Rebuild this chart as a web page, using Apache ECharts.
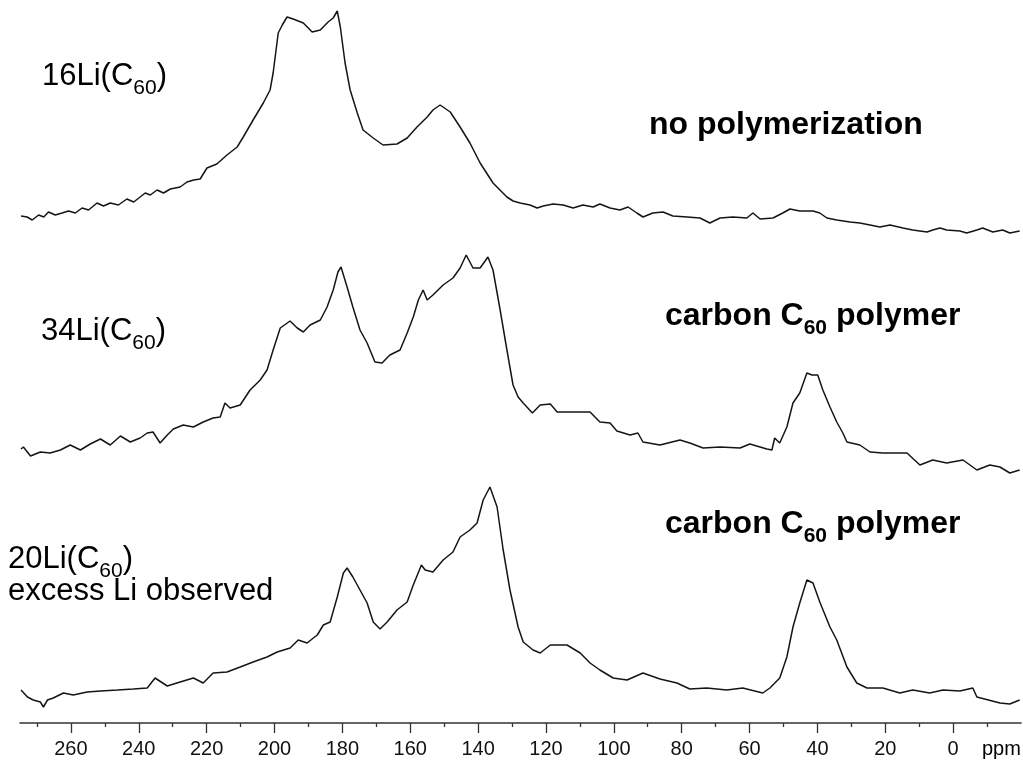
<!DOCTYPE html>
<html><head><meta charset="utf-8">
<script src="https://cdn.jsdelivr.net/npm/echarts/dist/echarts.min.js"></script>
<style>html,body{margin:0;padding:0;background:#fff}#c{width:1023px;height:763px}</style>
</head><body><div id="c"></div><script>
// ---- data (ppm positions and relative intensities, arbitrary units) ----
const ppm16 = [274.7, 272.9, 271.4, 269.5, 268.0, 266.6, 264.6, 262.6, 260.7, 258.7,
  256.7, 254.8, 252.3, 250.4, 248.4, 246.0, 243.5, 241.5, 239.6, 238.1,
  236.6, 234.6, 232.7, 230.7, 227.8, 225.8, 223.8, 221.9, 219.9, 217.0,
  214.0, 211.0, 209.2, 206.3, 203.3, 201.3, 200.4, 198.9, 197.7, 196.3,
  194.5, 191.5, 188.9, 186.5, 184.2, 182.7, 181.5, 180.6, 179.2, 177.7,
  175.6, 173.9, 170.9, 168.0, 163.9, 160.9, 158.0, 155.0, 153.3, 151.2,
  148.2, 145.3, 142.4, 139.4, 135.6, 131.5, 129.7, 127.6, 124.7, 122.6,
  120.8, 117.9, 114.9, 112.0, 109.1, 106.1, 104.1, 101.1, 98.2, 95.8,
  93.2, 91.4, 88.5, 85.5, 82.6, 78.4, 74.6, 71.7, 68.7, 64.9,
  60.8, 59.0, 56.9, 53.1, 50.2, 48.1, 45.2, 41.3, 39.3, 37.2,
  34.3, 30.4, 27.5, 24.5, 21.6, 18.6, 14.8, 11.9, 7.7, 6.0,
  3.9, 1.9, -2.0, -4.0, -7.0, -8.7, -11.7, -14.6, -16.7, -19.6];
const int16 = [19, 18, 15, 20, 18, 23, 20, 22, 24, 22,
  27, 25, 32, 29, 32, 30, 36, 33, 38, 42,
  40, 45, 42, 46, 48, 53, 55, 56, 67, 71,
  80, 88, 98, 115, 132, 145, 162, 202, 210, 218,
  216, 212, 203, 205, 213, 217, 224, 208, 172, 145,
  122, 105, 97, 90, 91, 97, 108, 118, 125, 130,
  123, 108, 92, 72, 52, 38, 34, 32, 30, 27,
  29, 31, 30, 27, 30, 28, 31, 27, 25, 28,
  22, 18, 22, 23, 19, 18, 17, 12, 17, 18,
  17, 22, 16, 17, 22, 26, 24, 24, 22, 17,
  15, 13, 12, 10, 8, 10, 7, 5, 3, 5,
  7, 5, 4, 2, 5, 7, 3, 5, 2, 4];

const ppm34 = [274.7, 274.0, 271.9, 269.0, 266.1, 263.1, 260.2, 257.2, 254.3, 251.3,
  248.4, 245.4, 242.5, 239.6, 237.5, 235.8, 233.7, 231.6, 229.8, 226.9,
  223.9, 221.0, 218.1, 216.0, 214.6, 213.1, 210.1, 207.2, 204.2, 202.2,
  200.4, 198.3, 195.4, 193.3, 191.5, 189.5, 186.5, 184.5, 182.7, 181.3,
  180.4, 178.6, 176.9, 174.8, 172.7, 170.4, 168.3, 166.0, 163.0, 160.9,
  159.1, 157.6, 156.2, 155.0, 153.3, 150.3, 147.4, 145.3, 143.5, 141.5,
  139.4, 137.1, 135.6, 133.5, 131.5, 129.7, 128.2, 126.7, 124.0, 121.7,
  118.7, 116.7, 112.9, 107.0, 104.1, 101.1, 99.1, 95.2, 92.9, 91.4,
  86.4, 80.5, 77.6, 73.7, 68.7, 62.8, 59.9, 54.9, 53.4, 52.6,
  51.1, 49.0, 47.2, 45.2, 43.1, 41.6, 39.9, 38.4, 36.3, 34.3,
  32.5, 31.3, 27.5, 24.5, 20.7, 16.6, 13.6, 9.8, 6.0, 1.9,
  -2.9, -7.0, -10.8, -13.8, -16.7, -19.6];
const int34 = [26, 28, 19, 23, 22, 25, 30, 25, 31, 36,
  30, 39, 33, 37, 42, 43, 32, 40, 46, 50,
  48, 53, 57, 58, 72, 67, 70, 85, 95, 105,
  125, 147, 154, 147, 143, 150, 155, 168, 185, 203,
  208, 188, 168, 145, 132, 113, 112, 120, 125, 142,
  158, 175, 185, 175, 180, 190, 197, 207, 220, 207,
  207, 218, 205, 165, 125, 90, 78, 72, 62, 70,
  71, 63, 63, 63, 53, 52, 44, 40, 42, 33,
  30, 35, 32, 27, 28, 27, 31, 26, 25, 37,
  32, 48, 72, 82, 102, 100, 100, 85, 68, 53,
  42, 33, 30, 23, 22, 22, 22, 10, 15, 12,
  15, 5, 10, 8, 2, 5];

const ppm20 = [274.7, 272.8, 271.1, 269.0, 268.1, 266.9, 265.2, 262.2, 259.3, 255.2, 251.3, 246.3, 241.6, 237.5,
  235.2, 231.6, 227.8, 223.9, 221.0, 218.1, 214.0, 210.1, 206.3, 202.2,
  199.2, 195.4, 193.0, 190.4, 187.4, 185.6, 183.6, 181.5, 179.7, 178.6,
  176.9, 174.8, 172.7, 170.9, 168.9, 166.8, 163.9, 160.9, 159.1, 156.7,
  155.6, 153.3, 150.3, 147.4, 145.3, 142.4, 140.3, 138.5, 136.5, 134.4,
  132.6, 130.6, 128.2, 126.7, 123.8, 121.7, 118.7, 113.8, 109.9, 107.0,
  104.1, 100.2, 96.1, 91.4, 86.4, 81.4, 77.6, 72.6, 66.7, 62.0,
  56.1, 54.0, 51.1, 49.0, 47.2, 45.2, 43.1, 41.3, 39.3, 36.3,
  34.3, 31.3, 28.4, 25.4, 20.7, 15.7, 11.9, 6.9, 3.0, -2.0,
  -5.8, -7.0, -13.8, -16.7, -19.6];
const int20 = [20, 13, 10, 8, 3, 10, 12, 17, 15, 18, 19, 20, 21, 22,
  32, 24, 28, 32, 27, 37, 38, 43, 48, 53,
  58, 62, 70, 67, 75, 85, 88, 113, 137, 142,
  133, 120, 107, 88, 81, 88, 100, 108, 125, 145,
  140, 138, 150, 158, 173, 180, 187, 210, 223, 203,
  160, 120, 83, 68, 60, 57, 65, 65, 57, 47,
  40, 32, 30, 37, 31, 27, 21, 22, 20, 22,
  17, 22, 32, 53, 83, 107, 130, 127, 108, 83,
  70, 43, 27, 22, 22, 17, 20, 17, 20, 19,
  22, 13, 7, 6, 10];

const majorTicks = [260, 240, 220, 200, 180, 160, 140, 120, 100, 80, 60, 40, 20, 0];
const minorTicks = [270, 250, 230, 210, 190, 170, 150, 130, 110, 90, 70, 50, 30, 10, -10];
const unitLabel = 'ppm';

// ---- build ----
const FONT = '"Liberation Sans", Arial, Helvetica, sans-serif';
const traces = [
  {name: '16Li(C60)', ppm: ppm16, val: int16, offset: 488},
  {name: '34Li(C60)', ppm: ppm34, val: int34, offset: 248},
  {name: '20Li(C60)', ppm: ppm20, val: int20, offset: 13}
];
const lineColor = '#151515';

function sub(x, y, main1, subTxt, main2, bold) {
  const w = bold ? 'bold' : 'normal';
  return {
    type: 'text', x: x, y: y, silent: true,
    style: {
      text: '{m|' + main1 + '}{s|' + subTxt + '}{m|' + main2 + '}',
      fill: '#000', align: 'left', verticalAlign: 'top',
      textAlign: 'left', textVerticalAlign: 'top',
      rich: {
        m: {fontSize: bold ? 32 : 31, fontFamily: FONT, fontWeight: w, verticalAlign: 'top', fill: '#000'},
        s: {fontSize: 21, fontFamily: FONT, fontWeight: w, verticalAlign: 'top', padding: [17, 0, 0, 0], fill: '#000'}
      }
    }
  };
}
function plain(x, y, txt, size, bold) {
  return {
    type: 'text', x: x, y: y, silent: true,
    style: {
      text: txt, fill: '#000', fontSize: size, fontFamily: FONT, fontWeight: bold ? 'bold' : 'normal',
      align: 'left', verticalAlign: 'middle', textAlign: 'left', textVerticalAlign: 'middle'
    }
  };
}

const chart = echarts.init(document.getElementById('c'), null, {renderer: 'canvas'});
chart.setOption({
  animation: false,
  backgroundColor: '#ffffff',
  grid: {left: 20, right: 2, top: 0, bottom: 40},
  xAxis: [
    {
      type: 'value', inverse: true, min: -20, max: 275, position: 'bottom',
      axisLine: {show: true, onZero: false, lineStyle: {color: '#333', width: 1.6}},
      axisTick: {show: true, customValues: minorTicks, length: 4, lineStyle: {color: '#333', width: 1.3}},
      axisLabel: {show: false},
      splitLine: {show: false}
    },
    {
      type: 'value', inverse: true, min: -20, max: 275, position: 'bottom',
      axisLine: {show: false, onZero: false},
      axisTick: {show: true, customValues: majorTicks, length: 10, lineStyle: {color: '#333', width: 1.3}},
      axisLabel: {show: true, customValues: majorTicks, margin: 16, fontSize: 20, color: '#111', fontFamily: FONT},
      splitLine: {show: false}
    }
  ],
  yAxis: {type: 'value', min: 0, max: 723, show: false},
  series: traces.map(t => ({
    type: 'line', name: t.name, xAxisIndex: 0, showSymbol: false, symbol: 'none',
    lineStyle: {color: lineColor, width: 1.5},
    data: t.ppm.map((p, i) => [p, t.val[i] + t.offset])
  })),
  graphic: [
    sub(42, 60.5, '16Li(C', '60', ')', false),
    sub(41, 315.5, '34Li(C', '60', ')', false),
    sub(8, 543.5, '20Li(C', '60', ')', false),
    plain(8, 591, 'excess Li observed', 31, false),
    plain(649, 125, 'no polymerization', 32, true),
    sub(665, 300.5, 'carbon C', '60', ' polymer', true),
    sub(665, 508.5, 'carbon C', '60', ' polymer', true),
    plain(982, 749, unitLabel, 20, false)
  ]
});
</script></body></html>
